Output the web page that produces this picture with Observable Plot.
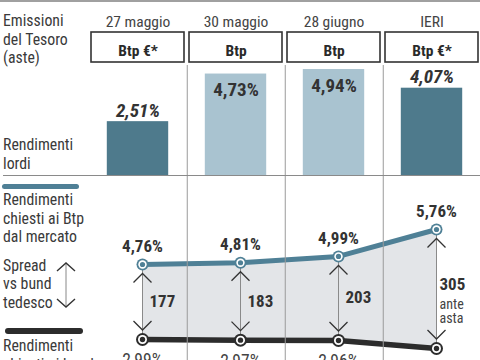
<!DOCTYPE html>
<html>
<head>
<meta charset="utf-8">
<script src="https://cdn.jsdelivr.net/npm/d3@7"></script>
<script src="https://cdn.jsdelivr.net/npm/@observablehq/plot@0.6"></script>
<style>
  html, body { margin: 0; padding: 0; background: #fff; }
  #chart { position: relative; width: 480px; height: 360px; overflow: hidden; background: #fff;
    font-family: "Roboto Condensed", "Open Sans Condensed", sans-serif; }
  #chart svg.layer { position: absolute; left: 0; top: 0; }
  .lbl { position: absolute; left: 3px; font-size: 15.8px; line-height: 18.5px; color: #3a3a3a; white-space: nowrap; }
  .swatch { position: absolute; border-radius: 3px; }
</style>
</head>
<body>
<div id="chart"></div>
<script>
// ---- data ----
const dates = ["27 maggio", "30 maggio", "28 giugno", "IERI"];
const bonds = ["Btp €*", "Btp", "Btp", "Btp €*"];
const grossYields = [2.51, 4.73, 4.94, 4.07];
const btpYields = [4.76, 4.81, 4.99, 5.76];
const bundYields = [2.99, 2.97, 2.96, 2.71];
const spreads = [177, 183, 203, 305];
const legendLabels = {
  issues: ["Emissioni", "del Tesoro", "(aste)"],
  gross: ["Rendimenti", "lordi"],
  btp: ["Rendimenti", "chiesti ai Btp", "dal mercato"],
  spread: ["Spread", "vs bund", "tedesco"],
  bund: ["Rendimenti", "chiesti ai bund"]
};
const preAuctionNote = "ante\nasta";

const fmt = v => v.toFixed(2).replace(".", ",") + "%";
const rows = dates.map((d, i) => ({
  date: d, bond: bonds[i], gross: grossYields[i], btp: btpYields[i], bund: bundYields[i], spread: spreads[i],
  mid: (btpYields[i] + bundYields[i]) / 2
}));

const FONT = "Roboto Condensed, Open Sans Condensed, sans-serif";
const TEAL = "#4f8096", DARKBAR = "#4e7a8c", LIGHTBAR = "#a9c3d0", DARK = "#2c2c2c", AREA = "#e3e5e8", TXT = "#333";

const chart = document.getElementById("chart");

// ---- top panel: auctions & gross yields ----
const plot1 = Plot.plot({
  width: 480, height: 360, margin: 0,
  style: {fontFamily: FONT, background: "transparent", overflow: "visible"},
  x: {type: "band", domain: dates, range: [87.5, 481.5], paddingInner: 0.05, paddingOuter: 0.025, axis: null},
  y: {domain: [0, 5], range: [175, 67.75], axis: null},
  color: {domain: ["Btp €*", "Btp"], range: [DARKBAR, LIGHTBAR]},
  marks: [
    Plot.ruleX(dates.slice(0, 3), {x: d => d, dx: 49.25, stroke: "#9a9a9a", strokeWidth: 1, insetTop: 65}),
    Plot.ruleY([0], {stroke: "#8a8a8a", strokeWidth: 1, insetLeft: 3}),
    Plot.barY(rows, {x: "date", y: "gross", fill: "bond", insetLeft: 15.8, insetRight: 15.8}),
    Plot.text(rows.filter(r => r.bond !== "Btp"), {x: "date", y: "gross", text: r => fmt(r.gross), dy: -11,
      fontSize: 19, fontWeight: "bold", fontStyle: "italic", fill: TXT}),
    Plot.text(rows.filter(r => r.bond === "Btp"), {x: "date", y: "gross", text: r => fmt(r.gross), dy: 16,
      fontSize: 19, fontWeight: "bold", fill: TXT}),
    Plot.text(dates, {x: d => d, text: d => d, frameAnchor: "top", dy: 15, fontSize: 15.5, fill: "#444"}),
    Plot.cell(rows, {x: "date", fill: "white", stroke: "#333", strokeWidth: 1.6, insetTop: 32, insetBottom: 298}),
    Plot.text(rows, {x: "date", text: "bond", frameAnchor: "top", dy: 44, fontSize: 15.5, fontWeight: "bold",
      fontStyle: r => r.bond === "Btp" ? "normal" : "italic", fill: "#2a2a2a"})
  ]
});
plot1.classList.add("layer");

// ---- bottom panel: market yields & spread ----
// the original graphic compresses the gap between the two yield lines; reproduce it with a piecewise warp
const warp = d3.scaleLinear().domain([2.71, 2.99, 4.76, 5.76]).range([0, 9, 84, 119]);
const caretUp = {draw(ctx) { ctx.moveTo(-9, 4.5); ctx.lineTo(0, -4.5); ctx.lineTo(9, 4.5); }};
const caretDown = {draw(ctx) { ctx.moveTo(-9, -4.5); ctx.lineTo(0, 4.5); ctx.lineTo(9, -4.5); }};
const plot2 = Plot.plot({
  width: 480, height: 360, margin: 0,
  style: {fontFamily: FONT, background: "transparent", overflow: "visible"},
  x: {type: "point", domain: dates, range: [142, 436], padding: 0, axis: null},
  y: {transform: warp, domain: [0, 119], range: [348, 229], axis: null},
  marks: [
    Plot.areaY(rows, {x: "date", y1: "bund", y2: "btp", fill: AREA}),
    Plot.ruleX(rows, {x: "date", y1: "btp", y2: "bund", stroke: "#8a8a8a", strokeWidth: 1}),
    Plot.dot(rows, {x: "date", y: "btp", symbol: caretUp, dy: 13.5, fill: "none", stroke: "#333", strokeWidth: 1.3}),
    Plot.dot(rows, {x: "date", y: "bund", symbol: caretDown, dy: -14, fill: "none", stroke: "#333", strokeWidth: 1.3}),
    Plot.lineY(rows, {x: "date", y: "bund", stroke: DARK, strokeWidth: 5.5}),
    Plot.lineY(rows, {x: "date", y: "btp", stroke: TEAL, strokeWidth: 5}),
    Plot.dot(rows, {x: "date", y: "btp", r: 6, fill: TEAL}),
    Plot.dot(rows, {x: "date", y: "btp", r: 4.2, fill: "white"}),
    Plot.dot(rows, {x: "date", y: "btp", r: 2.6, fill: TEAL}),
    Plot.dot(rows, {x: "date", y: "bund", r: 6.5, fill: DARK}),
    Plot.dot(rows, {x: "date", y: "bund", r: 4.5, fill: "white"}),
    Plot.dot(rows, {x: "date", y: "bund", r: 2.7, fill: DARK}),
    Plot.text(rows, {x: "date", y: "btp", text: r => fmt(r.btp), dy: -18, fontSize: 17, fontWeight: "bold", fill: TXT}),
    Plot.text(rows, {x: "date", y: "bund", text: r => fmt(r.bund), dy: 21, fontSize: 17.5, fill: "#444"}),
    Plot.text(rows.slice(0, 3), {x: "date", y: "mid", text: r => String(r.spread), dx: 7, textAnchor: "start",
      fontSize: 17, fontWeight: "bold", fill: TXT}),
    Plot.text(rows.slice(3), {x: "date", y: "mid", text: r => String(r.spread), dx: 3, dy: -2.5, textAnchor: "start",
      fontSize: 17, fontWeight: "bold", fill: TXT}),
    Plot.text(rows.slice(3), {x: "date", y: "mid", text: () => preAuctionNote, dx: 3, dy: 24.5, textAnchor: "start",
      lineHeight: 1, fontSize: 14, fill: "#444"})
  ]
});
plot2.classList.add("layer");

chart.appendChild(plot2);
chart.appendChild(plot1);

// ---- legend / decorations (html) ----
function addLines(lines, top) {
  const el = document.createElement("div");
  el.className = "lbl";
  el.style.top = top + "px";
  el.innerHTML = lines.join("<br>");
  chart.appendChild(el);
}
const topRule = document.createElement("div");
topRule.style.cssText = "position:absolute;left:0;top:0;width:480px;height:2px;background:#a0a0a0;";
chart.appendChild(topRule);

addLines(legendLabels.issues, 12);
addLines(legendLabels.gross, 136);
addLines(legendLabels.btp, 191);
addLines(legendLabels.spread, 256.5);
addLines(legendLabels.bund, 337);

function swatch(left, top, w, h, color) {
  const s = document.createElement("div");
  s.className = "swatch";
  s.style.cssText += `left:${left}px;top:${top}px;width:${w}px;height:${h}px;background:${color};`;
  chart.appendChild(s);
}
swatch(2, 183.5, 77, 5, TEAL);
swatch(5, 328, 78, 6, DARK);

const ns = "http://www.w3.org/2000/svg";
const icon = document.createElementNS(ns, "svg");
icon.setAttribute("width", "30"); icon.setAttribute("height", "60");
icon.style.cssText = "position:absolute;left:51px;top:255px;";
icon.innerHTML = `<path d="M15 8 V52" stroke="#888" stroke-width="1" fill="none"/>
  <path d="M6 16 L15 8 L24 16" stroke="#333" stroke-width="1.4" fill="none"/>
  <path d="M6 44 L15 52 L24 44" stroke="#333" stroke-width="1.4" fill="none"/>`;
chart.appendChild(icon);
</script>
</body>
</html>
